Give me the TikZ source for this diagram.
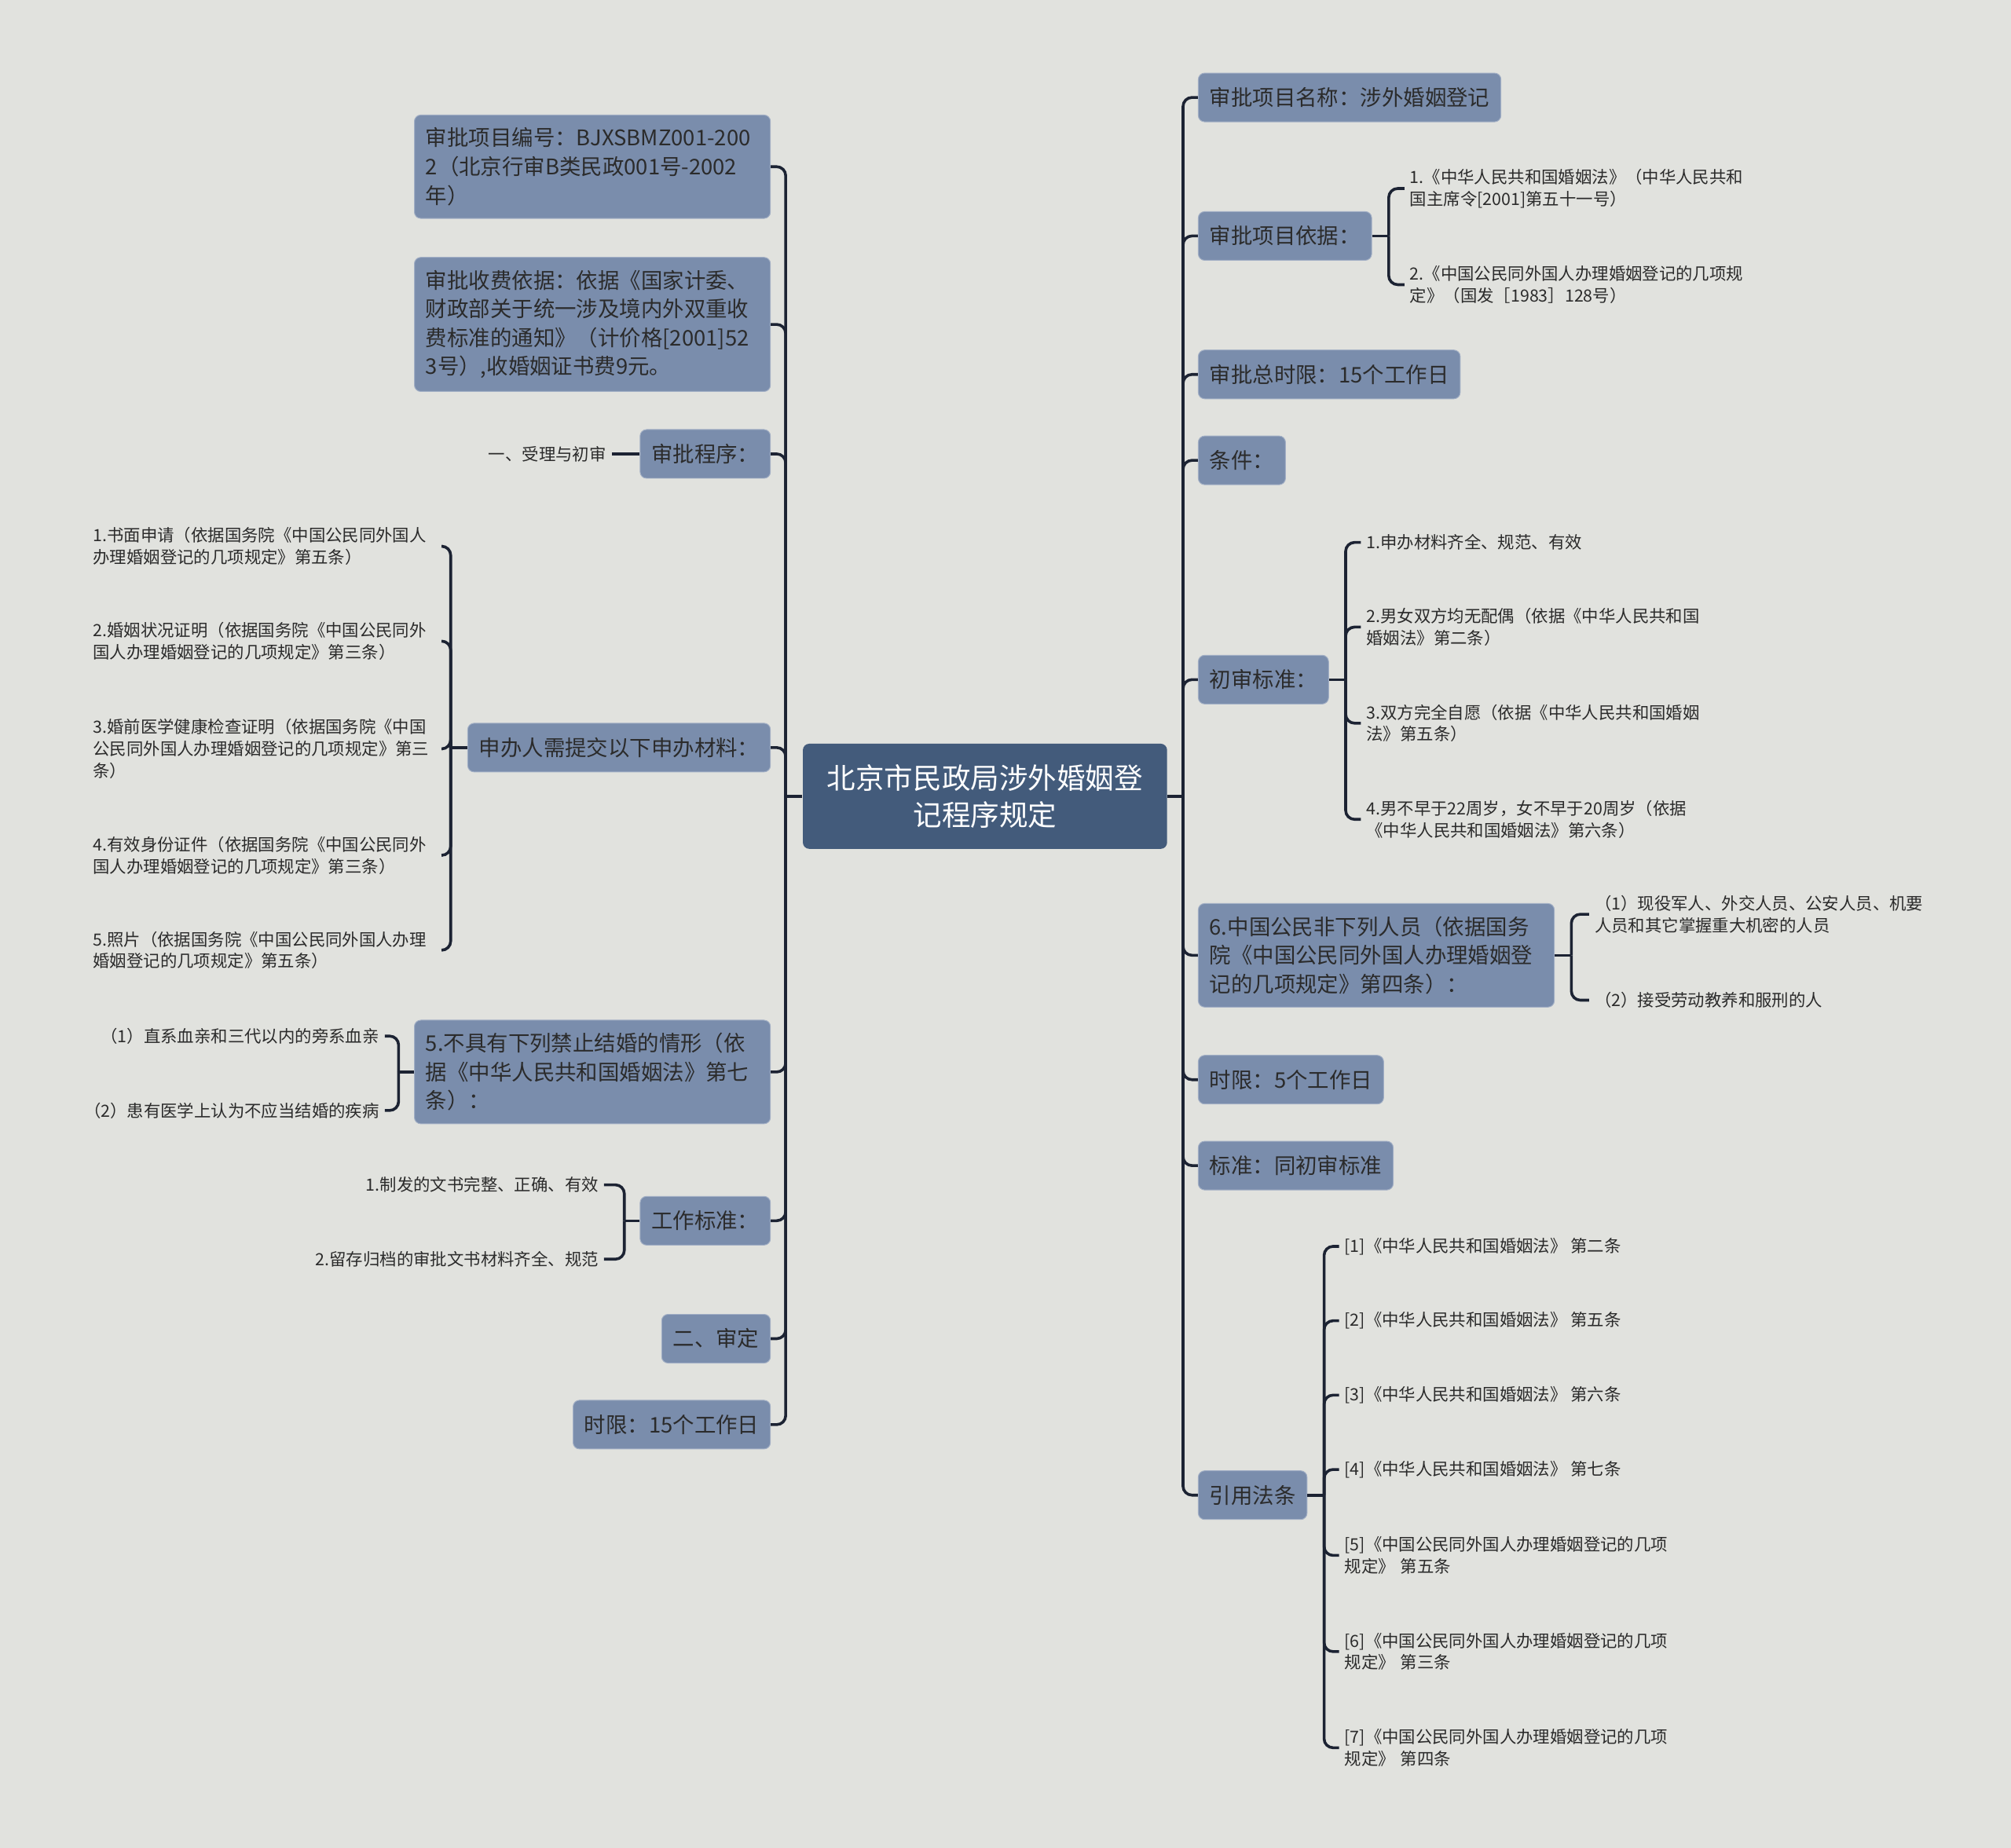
\documentclass[tikz,border=0pt]{standalone}
\usepackage{fontspec}
\setmainfont{Noto Sans CJK SC}
\usetikzlibrary{calc}

\definecolor{coloreSfondo}{HTML}{E1E2DE}
\definecolor{coloreRamo}{HTML}{7A8DAC}
\definecolor{coloreRadice}{HTML}{435B7B}
\definecolor{coloreLinea}{HTML}{1C2333}
\definecolor{coloreTesto}{HTML}{2B2B2B}

\newcommand{\fontfoglia}{\fontsize{6.55}{8.5}\selectfont}
\newcommand{\fontramo}{\fontsize{8.4}{11.2}\selectfont}
\newcommand{\fontradice}{\fontsize{11.2}{14.5}\selectfont}

\begin{document}
\begin{tikzpicture}[x=0.5pt, y=-0.5pt,
    radice/.style={fill=coloreRadice, rounded corners=2.5pt, text=white, align=center,
      minimum width=142pt, minimum height=41pt, font=\fontradice},
    ramo/.style={fill=coloreRamo, draw=coloreRamo!70!white, line width=0.3pt, rounded corners=2.5pt,
      text=coloreTesto, align=left, inner xsep=4.4pt, inner ysep=5pt, minimum height=19pt, font=\fontramo},
    ramolungo/.style={ramo, text width=130pt},
    foglia/.style={text=coloreTesto, align=left, inner xsep=2pt, inner ysep=1pt, font=\fontfoglia},
    foglialunga/.style={foglia, text width=134pt},
    conn/.style={draw=coloreLinea, line width=1.1pt, rounded corners=3.5pt}]

    % Sfondo
    \fill[coloreSfondo] (0,0) rectangle (1568,1441);
    \useasboundingbox (0,0) rectangle (1568,1441);

    % Nodo centrale
    \node[radice] (centro) at (768,621) {北京市民政局涉外婚姻登\\记程序规定};

    % Rami a sinistra
    \node[ramolungo, anchor=east] (s1) at (601,130) {审批项目编号：BJXSBMZ001-200\\2（北京行审B类民政001号-2002\\年）};
    \node[ramolungo, anchor=east] (s2) at (601,253) {审批收费依据：依据《国家计委、\\财政部关于统一涉及境内外双重收\\费标准的通知》（计价格[2001]52\\3号）,收婚姻证书费9元。};
    \node[ramo, anchor=east] (s3) at (601,354) {审批程序：};
    \node[ramo, anchor=east] (s4) at (601,583) {申办人需提交以下申办材料：};
    \node[ramolungo, anchor=east] (s5) at (601,836) {5.不具有下列禁止结婚的情形（依\\据《中华人民共和国婚姻法》第七\\条）：};
    \node[ramo, anchor=east] (s6) at (601,952) {工作标准：};
    \node[ramo, anchor=east] (s7) at (601,1044) {二、审定};
    \node[ramo, anchor=east] (s8) at (601,1111) {时限：15个工作日};

    % Rami a destra
    \node[ramo, anchor=west] (d1) at (934,76) {审批项目名称：涉外婚姻登记};
    \node[ramo, anchor=west] (d2) at (934,184) {审批项目依据：};
    \node[ramo, anchor=west] (d3) at (934,292) {审批总时限：15个工作日};
    \node[ramo, anchor=west] (d4) at (934,359) {条件：};
    \node[ramo, anchor=west] (d5) at (934,530) {初审标准：};
    \node[ramolungo, anchor=west] (d6) at (934,745) {6.中国公民非下列人员（依据国务\\院《中国公民同外国人办理婚姻登\\记的几项规定》第四条）：};
    \node[ramo, anchor=west] (d7) at (934,842) {时限：5个工作日};
    \node[ramo, anchor=west] (d8) at (934,909) {标准：同初审标准};
    \node[ramo, anchor=west] (d9) at (934,1166) {引用法条};

    % Foglie a sinistra
    \node[foglia, anchor=east] (s3a) at (477,354) {一、受理与初审};

    \node[foglialunga, anchor=east] (s4a) at (345,426) {1.书面申请（依据国务院《中国公民同外国人\\办理婚姻登记的几项规定》第五条）};
    \node[foglialunga, anchor=east] (s4b) at (345,500) {2.婚姻状况证明（依据国务院《中国公民同外\\国人办理婚姻登记的几项规定》第三条）};
    \node[foglialunga, anchor=east] (s4c) at (345,584) {3.婚前医学健康检查证明（依据国务院《中国\\公民同外国人办理婚姻登记的几项规定》第三\\条）};
    \node[foglialunga, anchor=east] (s4d) at (345,667) {4.有效身份证件（依据国务院《中国公民同外\\国人办理婚姻登记的几项规定》第三条）};
    \node[foglialunga, anchor=east] (s4e) at (345,741) {5.照片（依据国务院《中国公民同外国人办理\\婚姻登记的几项规定》第五条）};

    \node[foglia, anchor=east] (s5a) at (300,808) {（1）直系血亲和三代以内的旁系血亲};
    \node[foglia, anchor=east] (s5b) at (300,866) {（2）患有医学上认为不应当结婚的疾病};

    \node[foglia, anchor=east] (s6a) at (471,924) {1.制发的文书完整、正确、有效};
    \node[foglia, anchor=east] (s6b) at (471,982) {2.留存归档的审批文书材料齐全、规范};

    % Foglie a destra
    \node[foglialunga, anchor=west] (d2a) at (1095,147) {1.《中华人民共和国婚姻法》（中华人民共和\\国主席令[2001]第五十一号）};
    \node[foglialunga, anchor=west] (d2b) at (1095,222) {2.《中国公民同外国人办理婚姻登记的几项规\\定》（国发［1983］128号）};

    \node[foglialunga, anchor=west] (d5a) at (1061,423) {1.申办材料齐全、规范、有效};
    \node[foglialunga, anchor=west] (d5b) at (1061,489) {2.男女双方均无配偶（依据《中华人民共和国\\婚姻法》第二条）};
    \node[foglialunga, anchor=west] (d5c) at (1061,564) {3.双方完全自愿（依据《中华人民共和国婚姻\\法》第五条）};
    \node[foglialunga, anchor=west] (d5d) at (1061,639) {4.男不早于22周岁，女不早于20周岁（依据\\《中华人民共和国婚姻法》第六条）};

    \node[foglialunga, anchor=west] (d6a) at (1239,713) {（1）现役军人、外交人员、公安人员、机要\\人员和其它掌握重大机密的人员};
    \node[foglialunga, anchor=west] (d6b) at (1239,780) {（2）接受劳动教养和服刑的人};

    \node[foglia, anchor=west] (d9a) at (1044,972) {[1]《中华人民共和国婚姻法》 第二条};
    \node[foglia, anchor=west] (d9b) at (1044,1030) {[2]《中华人民共和国婚姻法》 第五条};
    \node[foglia, anchor=west] (d9c) at (1044,1088) {[3]《中华人民共和国婚姻法》 第六条};
    \node[foglia, anchor=west] (d9d) at (1044,1146) {[4]《中华人民共和国婚姻法》 第七条};
    \node[foglialunga, anchor=west] (d9e) at (1044,1213) {[5]《中国公民同外国人办理婚姻登记的几项\\规定》 第五条};
    \node[foglialunga, anchor=west] (d9f) at (1044,1288) {[6]《中国公民同外国人办理婚姻登记的几项\\规定》 第三条};
    \node[foglialunga, anchor=west] (d9g) at (1044,1363) {[7]《中国公民同外国人办理婚姻登记的几项\\规定》 第四条};

    % Tronchi principali
    \coordinate (gs) at ($(centro.west)+(-13,0)$);
    \coordinate (gd) at ($(centro.east)+(12,0)$);
    \draw[conn] (centro.west) -- (gs);
    \draw[conn] (centro.east) -- (gd);
    \foreach \n in {1,...,8} \draw[conn] (gs) |- (s\n.east);
    \foreach \n in {1,...,9} \draw[conn] (gd) |- (d\n.west);

    % Parentesi delle foglie
    \draw[conn] (s3.west) -- (s3a.east);

    \coordinate (g4) at ($(s4.west)+(-13,0)$);
    \draw[conn] (s4.west) -- (g4);
    \foreach \f in {a,...,e} \draw[conn] (g4) |- (s4\f.east);

    \coordinate (g5) at ($(s5.west)+(-12,0)$);
    \draw[conn] (s5.west) -- (g5);
    \foreach \f in {a,b} \draw[conn] (g5) |- (s5\f.east);

    \coordinate (g6) at ($(s6.west)+(-12,0)$);
    \draw[conn] (s6.west) -- (g6);
    \foreach \f in {a,b} \draw[conn] (g6) |- (s6\f.east);

    \coordinate (h2) at ($(d2.east)+(13,0)$);
    \draw[conn] (d2.east) -- (h2);
    \foreach \f in {a,b} \draw[conn] (h2) |- (d2\f.west);

    \coordinate (h5) at ($(d5.east)+(13,0)$);
    \draw[conn] (d5.east) -- (h5);
    \foreach \f in {a,...,d} \draw[conn] (h5) |- (d5\f.west);

    \coordinate (h6) at ($(d6.east)+(13,0)$);
    \draw[conn] (d6.east) -- (h6);
    \foreach \f in {a,b} \draw[conn] (h6) |- (d6\f.west);

    \coordinate (h9) at ($(d9.east)+(13,0)$);
    \draw[conn] (d9.east) -- (h9);
    \foreach \f in {a,...,g} \draw[conn] (h9) |- (d9\f.west);
\end{tikzpicture}
\end{document}
